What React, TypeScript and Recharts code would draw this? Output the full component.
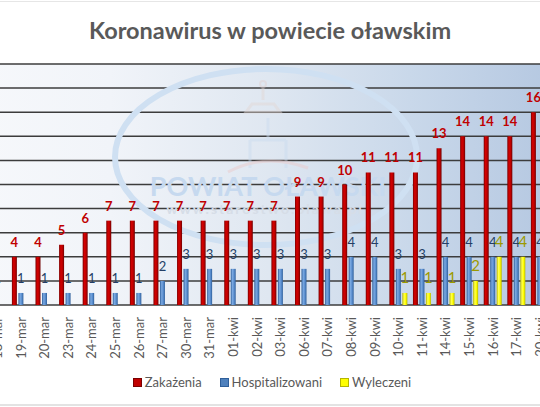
import {
  BarChart,
  Bar,
  XAxis,
  YAxis,
  CartesianGrid,
  LabelList,
  Legend,
} from "recharts";

const days = [
  "18-mar", "19-mar", "20-mar", "23-mar", "24-mar", "25-mar",
  "26-mar", "27-mar", "30-mar", "31-mar", "01-kwi", "02-kwi",
  "03-kwi", "06-kwi", "07-kwi", "08-kwi", "09-kwi", "10-kwi",
  "11-kwi", "14-kwi", "15-kwi", "16-kwi", "17-kwi", "20-kwi",
];

const zakazenia = [
  3, 4, 4, 5, 6, 7, 7, 7, 7, 7, 7, 7,
  7, 9, 9, 10, 11, 11, 11, 13, 14, 14, 14, 16,
];

const hospitalizowani = [
  1, 1, 1, 1, 1, 1, 1, 2, 3, 3, 3, 3,
  3, 3, 3, 4, 4, 3, 3, 4, 4, 4, 4, 4,
];

const wyleczeni = [
  0, 0, 0, 0, 0, 0, 0, 0, 0, 0, 0, 0,
  0, 0, 0, 0, 0, 1, 1, 1, 2, 4, 4, 4,
];

const seriesNames = ["Zakażenia", "Hospitalizowani", "Wyleczeni"];

const gridTicks = [2, 4, 6, 8, 10, 12, 14, 16, 18];

const data = days.map((day, i) => ({
  day,
  zakazenia: zakazenia[i],
  hospitalizowani: hospitalizowani[i],
  wyleczeni: wyleczeni[i],
}));

const FONT = "Lato, 'Open Sans', sans-serif";

const legendColors: Record<string, string> = {
  "Zakażenia": "#c00000",
  "Hospitalizowani": "#4f81bd",
  "Wyleczeni": "#ffff00",
};

const legendBorders: Record<string, string> = {
  "Zakażenia": "#7a0000",
  "Hospitalizowani": "#2f5f9a",
  "Wyleczeni": "#b5b500",
};

const DayTick = (props: any) => {
  const { x, y, payload } = props;
  return (
    <text
      x={0}
      y={0}
      transform={`translate(${x},${y}) rotate(-90)`}
      textAnchor="end"
      dominantBaseline="central"
      fill="#595959"
      fontSize={13}
      fontFamily={FONT}
    >
      {payload.value}
    </text>
  );
};

const renderLegend = (props: any) => {
  const items = [...(props.payload || [])].sort(
    (a: any, b: any) =>
      seriesNames.indexOf(a.value) - seriesNames.indexOf(b.value)
  );
  return (
    <div
      style={{
        display: "flex",
        justifyContent: "center",
        gap: 18,
        fontFamily: FONT,
        fontSize: 13,
        color: "#595959",
        paddingLeft: 4,
      }}
    >
      {items.map((entry: any) => (
        <span
          key={entry.value}
          style={{ display: "flex", alignItems: "center" }}
        >
          <span
            style={{
              width: 7,
              height: 7,
              background: legendColors[entry.value],
              border: `1px solid ${legendBorders[entry.value]}`,
              marginRight: 3,
            }}
          />
          {entry.value}
        </span>
      ))}
    </div>
  );
};

// faint background logo of the county
const Watermark = () => (
  <g>
    <ellipse
      cx={306}
      cy={157}
      rx={151}
      ry={88}
      fill="none"
      stroke="#cfe0f2"
      strokeWidth={6}
    />
    <g opacity={0.45}>
      <circle cx={303} cy={84} r={3} fill="none" stroke="#e0cfcf" strokeWidth={2} />
      <path
        d="M303 88 L303 100 M292 104 L314 104 L320 112 L286 112 Z"
        fill="none"
        stroke="#e3d7d4"
        strokeWidth={3}
      />
      <path
        d="M290 140 L290 168 M326 140 L326 168 M290 140 L326 140 M308 118 L308 140"
        fill="none"
        stroke="#c9dbef"
        strokeWidth={3}
      />
      <path
        d="M268 172 Q 305 152 348 168"
        fill="none"
        stroke="#ecc8c8"
        strokeWidth={3}
      />
    </g>
    <text
      x={308}
      y={196}
      textAnchor="middle"
      fontSize={27}
      fontWeight="bold"
      fontFamily={FONT}
      fill="#c6d9ef"
    >
      POWIAT OŁAWSKI
    </text>
    <text
      x={305}
      y={214}
      textAnchor="middle"
      fontSize={14}
      fontWeight="bold"
      letterSpacing={2}
      fontFamily={FONT}
      fill="#d6dde7"
    >
      www.starostwo.olawa.pl
    </text>
  </g>
);

const App = () => {
  return (
    <div
      style={{
        position: "fixed",
        left: 0,
        top: 0,
        width: 540,
        height: 407,
        overflow: "hidden",
        background: "#ffffff",
      }}
    >
      <div
        style={{
          position: "absolute",
          left: 0,
          top: 1,
          width: 540,
          height: 1,
          background: "#e6e6e6",
        }}
      />
      <div
        style={{
          position: "absolute",
          left: 0,
          top: 404,
          width: 540,
          height: 2,
          background: "#e3e3e3",
        }}
      />

      <div
        style={{
          position: "absolute",
          left: 0,
          top: 15,
          width: 540,
          textAlign: "center",
          fontFamily: FONT,
          fontWeight: "bold",
          fontSize: 23.5,
          color: "#595959",
          lineHeight: "30px",
        }}
      >
        Koronawirus w powiecie oławskim
      </div>

      <div style={{ position: "absolute", left: -40, top: 0 }}>
        <BarChart
          width={620}
          height={407}
          data={data}
          margin={{ top: 64, right: 28.5, bottom: 42, left: 25.3 }}
          barSize={5}
          barGap={1.5}
        >
          <defs>
            <linearGradient id="plotBg" x1="0" y1="0" x2="1" y2="0">
              <stop offset="0%" stopColor="#f6f8fb" />
              <stop offset="22%" stopColor="#f1f4f9" />
              <stop offset="50%" stopColor="#dfe7f1" />
              <stop offset="75%" stopColor="#c9d8ea" />
              <stop offset="100%" stopColor="#b5c8e1" />
            </linearGradient>
            <linearGradient id="redBar" x1="0" y1="0" x2="1" y2="0">
              <stop offset="0%" stopColor="#7a0000" />
              <stop offset="35%" stopColor="#d40000" />
              <stop offset="65%" stopColor="#c00000" />
              <stop offset="100%" stopColor="#700000" />
            </linearGradient>
            <linearGradient id="blueBar" x1="0" y1="0" x2="1" y2="0">
              <stop offset="0%" stopColor="#2f5f9a" />
              <stop offset="35%" stopColor="#7aa8e0" />
              <stop offset="65%" stopColor="#5b8fd0" />
              <stop offset="100%" stopColor="#2f5f9a" />
            </linearGradient>
            <linearGradient id="yellowBar" x1="0" y1="0" x2="1" y2="0">
              <stop offset="0%" stopColor="#b5b500" />
              <stop offset="35%" stopColor="#ffff50" />
              <stop offset="65%" stopColor="#ffff00" />
              <stop offset="100%" stopColor="#b8b800" />
            </linearGradient>
          </defs>

          {/* background only */}
          <CartesianGrid
            vertical={false}
            horizontal={false}
            fill="url(#plotBg)"
            fillOpacity={1}
          />

          <Watermark />

          {/* lines over the logo */}
          <CartesianGrid
            vertical={false}
            stroke="#3c3c3c"
            strokeWidth={1.5}
          />

          <XAxis
            dataKey="day"
            interval={0}
            tickLine={false}
            axisLine={false}
            tickSize={0}
            tickMargin={12}
            height={60}
            tick={<DayTick />}
          />

          <YAxis
            hide
            type="number"
            domain={[0, 20]}
            ticks={gridTicks}
          />

          <Bar
            dataKey="zakazenia"
            name="Zakażenia"
            fill="url(#redBar)"
            isAnimationActive={false}
          >
            <LabelList
              dataKey="zakazenia"
              position="top"
              offset={10}
              fill="#c00000"
              fontSize={13}
              fontWeight="bold"
              fontFamily={FONT}
            />
          </Bar>

          <Bar
            dataKey="hospitalizowani"
            name="Hospitalizowani"
            fill="url(#blueBar)"
            isAnimationActive={false}
          >
            <LabelList
              dataKey="hospitalizowani"
              position="top"
              offset={10}
              fill="#243f66"
              fontSize={13}
              fontFamily={FONT}
            />
          </Bar>

          <Bar
            dataKey="wyleczeni"
            name="Wyleczeni"
            fill="url(#yellowBar)"
            isAnimationActive={false}
          >
            <LabelList
              dataKey="wyleczeni"
              position="top"
              offset={10}
              fill="#9c9a00"
              fontSize={15}
              fontFamily={FONT}
            />
          </Bar>

          <Legend
            verticalAlign="middle"
            align="center"
            content={renderLegend}
            wrapperStyle={{ top: 374, left: 0, width: 620 }}
          />
        </BarChart>
      </div>
    </div>
  );
};

export default App;
